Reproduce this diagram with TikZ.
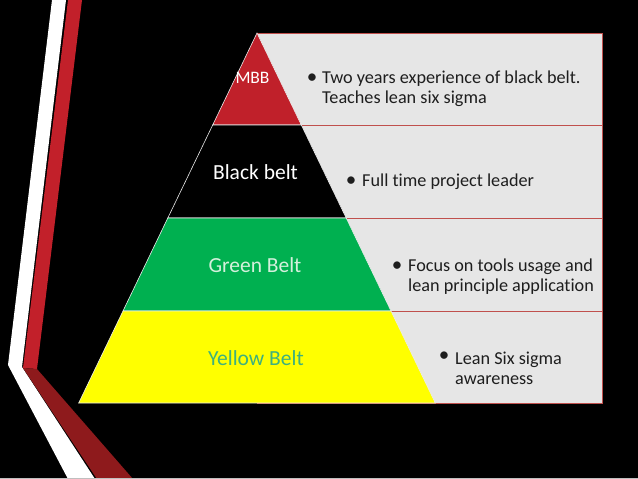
\documentclass[tikz,border=0pt]{standalone}
\usepackage{fontspec}
\setmainfont{Carlito}[Ligatures={NoCommon}]
\definecolor{rowfill}{HTML}{E6E6E6}
\definecolor{rowline}{HTML}{C0504D}
\definecolor{mbbred}{HTML}{C0202A}
\definecolor{stripered}{HTML}{C2202A}
\definecolor{darkred}{HTML}{8E1A1C}
\definecolor{beltgreen}{HTML}{00B050}
\definecolor{beltyellow}{HTML}{FFFF00}
\definecolor{greentext}{HTML}{D4F0DC}
\definecolor{yellowtext}{HTML}{3EB07E}
\definecolor{bodytext}{HTML}{1E1E1E}
\begin{document}
\begin{tikzpicture}[x=1pt,y=-1pt,
  rowbox/.style={fill=rowfill,draw=rowline,line width=0.9pt},
  level/.style={draw=white!85!gray,line width=0.6pt},
  beltlabel/.style={font=\fontsize{21.5}{24}\selectfont,inner sep=0pt},
  bulletmark/.style={font=\fontsize{21}{21}\selectfont,text=bodytext,inner sep=0pt},
  bullettext/.style={font=\fontsize{18.2}{20}\selectfont,text=bodytext,align=left,anchor=west,inner sep=0pt}]
\useasboundingbox (0,0) rectangle (638,479);
\fill[black] (0,0) rectangle (638,479);
% left decoration stripes
\fill[white] (52,0) -- (66,0) -- (22,367) -- (95,479) -- (68,479) -- (8,365) -- cycle;
\fill[stripered] (68,0) -- (82,0) -- (37,369) -- (23,368) -- cycle;
\fill[darkred] (23,368) -- (37,369) -- (133,479) -- (97,479) -- cycle;
\draw[gray!50,line width=1pt] (0,478.5) -- (638,478.5);
% description rows
\draw[rowbox] (257,33) rectangle (602,125);
\draw[rowbox] (257,125) rectangle (602,218);
\draw[rowbox] (257,218) rectangle (602,311);
\draw[rowbox] (257,311) rectangle (602,403);
% pyramid levels
\filldraw[level,fill=mbbred] (257,33) -- (301.3,125) -- (212.7,125) -- cycle;
\filldraw[level,fill=black] (212.7,125) -- (301.3,125) -- (346.2,218) -- (167.8,218) -- cycle;
\filldraw[level,fill=beltgreen] (167.8,218) -- (346.2,218) -- (391,311) -- (123,311) -- cycle;
\filldraw[level,fill=beltyellow] (123,311) -- (391,311) -- (435.3,403) -- (78.7,403) -- cycle;
% pyramid labels
\node[beltlabel,text=white,font=\fontsize{17.5}{20}\selectfont] (mbb) at (252.5,78) {MBB};
\node[beltlabel,text=white] (black) at (255.5,172) {Black belt};
\node[beltlabel,text=greentext] (green) at (255,265) {Green Belt};
\node[beltlabel,text=yellowtext] (yellow) at (256,358) {Yellow Belt};
% bullets
\node[bulletmark] (b1) at (312,79) {•};
\node[bullettext] (t1) at (322,89) {Two years experience of black belt.\\Teaches lean six sigma};
\node[bulletmark] (b2) at (351,182) {•};
\node[bullettext] (t2) at (362,182) {Full time project leader};
\node[bulletmark] (b3) at (397,267) {•};
\node[bullettext] (t3) at (408,277) {Focus on tools usage and\\lean principle application};
\node[bulletmark] (b4) at (444,357) {•};
\node[bullettext] (t4) at (455,368) {Lean Six sigma\\awareness};
\end{tikzpicture}
\end{document}
